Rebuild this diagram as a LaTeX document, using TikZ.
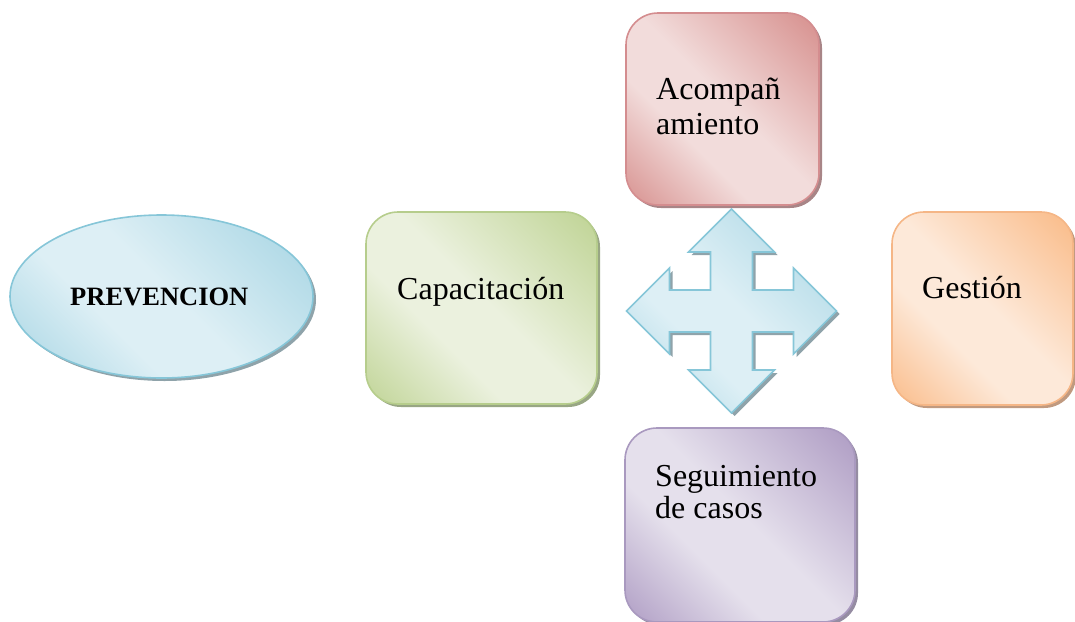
\documentclass[tikz,border=0pt]{standalone}
\usepackage{fontspec}
\setmainfont{Liberation Serif}
\usetikzlibrary{shadows,shapes.geometric}
\definecolor{blueD}{HTML}{A9D6E4}
\definecolor{blueL}{HTML}{DDEFF5}
\definecolor{blueB}{HTML}{86C6D8}
\definecolor{blueS}{HTML}{8FA3AA}
\definecolor{pinkD}{HTML}{D99694}
\definecolor{pinkL}{HTML}{F2DCDB}
\definecolor{pinkB}{HTML}{D48D8F}
\definecolor{pinkS}{HTML}{A88587}
\definecolor{greenD}{HTML}{C3D69B}
\definecolor{greenL}{HTML}{EBF1DE}
\definecolor{greenB}{HTML}{B6CD8C}
\definecolor{greenS}{HTML}{98A684}
\definecolor{orangeD}{HTML}{FABF8F}
\definecolor{orangeL}{HTML}{FDE9D9}
\definecolor{orangeB}{HTML}{F5B686}
\definecolor{orangeS}{HTML}{C09A80}
\definecolor{purpleD}{HTML}{B3A2C7}
\definecolor{purpleL}{HTML}{E5E0EC}
\definecolor{purpleB}{HTML}{A999BF}
\definecolor{purpleS}{HTML}{958CA2}
\pgfdeclarehorizontalshading{bluesh}{100bp}{color(0bp)=(blueD); color(18bp)=(blueD); color(48bp)=(blueL); color(62bp)=(blueL); color(84bp)=(blueD); color(100bp)=(blueD)}
\pgfdeclarehorizontalshading{pinksh}{100bp}{color(0bp)=(pinkD); color(18bp)=(pinkD); color(48bp)=(pinkL); color(62bp)=(pinkL); color(84bp)=(pinkD); color(100bp)=(pinkD)}
\pgfdeclarehorizontalshading{greensh}{100bp}{color(0bp)=(greenD); color(18bp)=(greenD); color(48bp)=(greenL); color(62bp)=(greenL); color(84bp)=(greenD); color(100bp)=(greenD)}
\pgfdeclarehorizontalshading{orangesh}{100bp}{color(0bp)=(orangeD); color(18bp)=(orangeD); color(48bp)=(orangeL); color(62bp)=(orangeL); color(84bp)=(orangeD); color(100bp)=(orangeD)}
\pgfdeclarehorizontalshading{purplesh}{100bp}{color(0bp)=(purpleD); color(18bp)=(purpleD); color(48bp)=(purpleL); color(62bp)=(purpleL); color(84bp)=(purpleD); color(100bp)=(purpleD)}
\begin{document}
\begin{tikzpicture}[x=1pt,y=-1pt,
  shp/.style={line width=1.6pt, shading angle=-135, inner sep=0pt},
  rbox/.style={shp, rectangle, rounded corners=32pt},
  shad/.style={drop shadow={shadow xshift=3pt, shadow yshift=-3pt, fill=#1, opacity=1}},
  lbl/.style={inner sep=0pt, anchor=base west, font=\fontsize{32}{34}\selectfont}
]
\useasboundingbox (0,0) rectangle (1075,621);
\clip (0,0) rectangle (1075,621);
% ellipse
\node[shp, ellipse, shading=bluesh, draw=blueB, shad=blueS,
      minimum width=303pt, minimum height=163pt] (prev) at (161.5,296.5) {};
% boxes
\node[rbox, shading=greensh, draw=greenB, shad=greenS,
      minimum width=231pt, minimum height=192pt] (capa) at (481.5,308) {};
\node[rbox, shading=pinksh, draw=pinkB, shad=pinkS,
      minimum width=193pt, minimum height=192pt] (acomp) at (722.5,109) {};
\node[rbox, shading=orangesh, draw=orangeB, shad=orangeS,
      minimum width=181pt, minimum height=193pt] (gest) at (982.5,308.5) {};
\node[rbox, shading=purplesh, draw=purpleB, shad=purpleS,
      minimum width=230pt, minimum height=194pt] (segu) at (740,525) {};
% four-way arrow
\coordinate (c) at (731.5,311);
\begin{scope}[shift={(c)}]
\path[shp, shading=bluesh, draw=blueB, line width=1.6pt, shad=blueS, line join=miter]
  (0,-102) -- (43,-59) -- (21,-59) -- (21,-21) -- (62,-21) -- (62,-43) -- (105,0)
  -- (62,43) -- (62,21) -- (21,21) -- (21,59) -- (43,59) -- (0,102)
  -- (-43,59) -- (-21,59) -- (-21,21) -- (-62,21) -- (-62,43) -- (-105,0)
  -- (-62,-43) -- (-62,-21) -- (-21,-21) -- (-21,-59) -- (-43,-59) -- cycle;
\end{scope}
% texts
\node[lbl, font=\fontsize{26.5}{28}\selectfont\bfseries] (tprev) at (70,305) {PREVENCION};
\node[lbl] (tcapa) at (397,299) {Capacitación};
\node[lbl] (tacA) at (656,99) {Acompañ};
\node[lbl] (tacB) at (656,134) {amiento};
\node[lbl] (tgest) at (922,298) {Gestión};
\node[lbl] (tseA) at (655,486) {Seguimiento};
\node[lbl] (tseB) at (655,518) {de casos};
\end{tikzpicture}
\end{document}
